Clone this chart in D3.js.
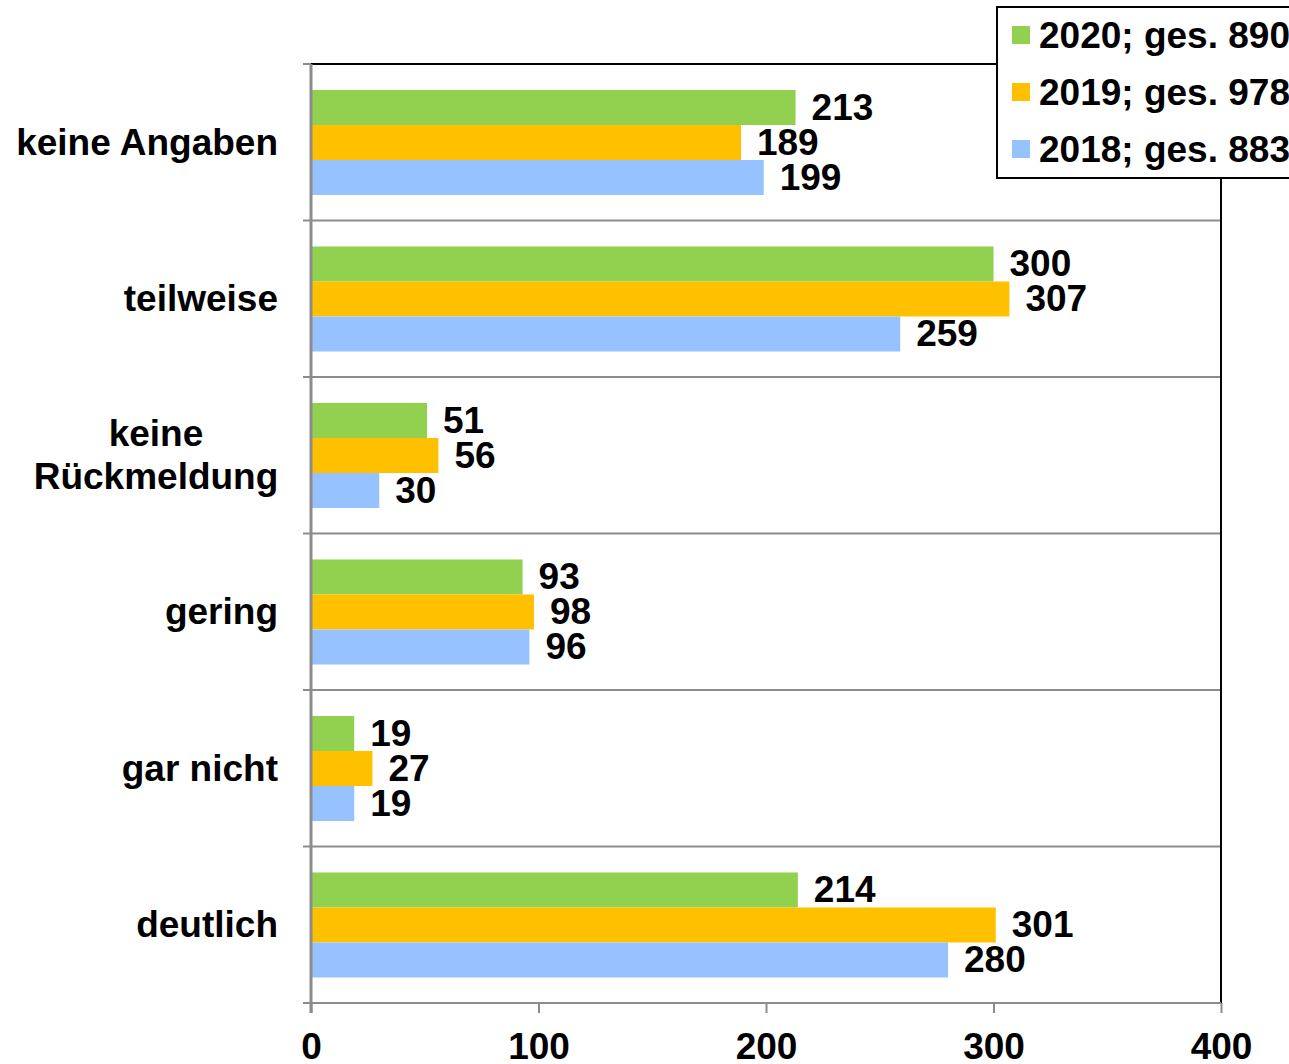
<!DOCTYPE html>
<html>
<head>
<meta charset="utf-8">
<script src="https://cdn.jsdelivr.net/npm/d3@7"></script>
<style>
  body { margin: 0; background: #fff; }
  svg { display: block; }
  text { font-family: "Liberation Sans", Arial, sans-serif; font-weight: bold; fill: #000; }
</style>
</head>
<body>
<div class="chart"></div>
<script>
// categories top to bottom
var categories = ["keine Angaben", "teilweise", "keine Rückmeldung", "gering", "gar nicht", "deutlich"];
var seriesNames = ["2020; ges. 890", "2019; ges. 978", "2018; ges. 883"];
var seriesColors = ["#92D050", "#FFC000", "#96C3FF"];
var values2020 = [213, 300, 51, 93, 19, 214];
var values2019 = [189, 307, 56, 98, 27, 301];
var values2018 = [199, 259, 30, 96, 19, 280];
var xTicks = [0, 100, 200, 300, 400];

var allValues = [values2020, values2019, values2018];

var width = 1289, height = 1064;
var margin = {top: 64, right: 68, bottom: 61, left: 311};
var fontSize = 37;

var svg = d3.select(".chart")
  .append("svg")
    .attr("width", width)
    .attr("height", height);

var x = d3.scaleLinear()
    .domain([0, 400])
    .range([margin.left, width - margin.right]);

var y = d3.scaleBand()
    .domain(categories)
    .range([margin.top, height - margin.bottom]);

// three bars in each band, with some white space above and below
var ySub = d3.scaleBand()
    .domain(d3.range(seriesNames.length))
    .range([y.bandwidth() * 0.166, y.bandwidth() * 0.837]);

// horizontal grid lines at band boundaries
var bounds = categories.slice(1).map(function(c) { return y(c); });
svg.append("g")
  .selectAll("line")
  .data(bounds)
  .enter()
  .append("line")
    .attr("x1", x(0))
    .attr("x2", x(400))
    .attr("y1", function(d) { return d; })
    .attr("y2", function(d) { return d; })
    .attr("stroke", "#8c8c8c")
    .attr("stroke-width", 2);

// left axis ticks
svg.append("g")
  .selectAll("line")
  .data([margin.top].concat(bounds).concat([height - margin.bottom]))
  .enter()
  .append("line")
    .attr("x1", x(0) - 8)
    .attr("x2", x(0))
    .attr("y1", function(d) { return d; })
    .attr("y2", function(d) { return d; })
    .attr("stroke", "#8c8c8c")
    .attr("stroke-width", 2);

// plot border top / right in black
svg.append("line")
    .attr("x1", x(0)).attr("x2", x(400))
    .attr("y1", margin.top).attr("y2", margin.top)
    .attr("stroke", "#000").attr("stroke-width", 2);
svg.append("line")
    .attr("x1", x(400)).attr("x2", x(400))
    .attr("y1", margin.top).attr("y2", height - margin.bottom)
    .attr("stroke", "#000").attr("stroke-width", 2);

// bars
seriesNames.forEach(function(name, si) {
  var g = svg.append("g");
  g.selectAll("rect")
    .data(categories)
    .enter()
    .append("rect")
      .attr("x", x(0))
      .attr("y", function(c) { return y(c) + ySub(si); })
      .attr("width", function(c, i) { return x(allValues[si][i]) - x(0); })
      .attr("height", ySub.bandwidth())
      .attr("fill", seriesColors[si]);

  g.selectAll("text")
    .data(categories)
    .enter()
    .append("text")
      .attr("x", function(c, i) { return x(allValues[si][i]) + 16; })
      .attr("y", function(c) { return y(c) + ySub(si) + ySub.bandwidth() / 2 + 12.5; })
      .attr("font-size", fontSize)
      .text(function(c, i) { return allValues[si][i]; });
});

// bottom axis
var xAxis = svg.append("g")
    .attr("transform", "translate(0," + (height - margin.bottom) + ")")
    .call(d3.axisBottom(x).tickValues(xTicks).tickSize(10).tickPadding(20).tickSizeOuter(0));
xAxis.select(".domain").attr("stroke", "#8c8c8c").attr("stroke-width", 2)
    .attr("d", "M" + (x(0) - 8) + ",0H" + x(400));
xAxis.selectAll(".tick line").attr("stroke", "#8c8c8c").attr("stroke-width", 2);
xAxis.selectAll(".tick text")
    .attr("font-size", fontSize)
    .attr("font-family", "Liberation Sans, Arial, sans-serif")
    .attr("font-weight", "bold")
    .attr("fill", "#000");

// left axis line
svg.append("line")
    .attr("x1", x(0)).attr("x2", x(0))
    .attr("y1", margin.top).attr("y2", height - margin.bottom + 10)
    .attr("stroke", "#8c8c8c").attr("stroke-width", 3);

// category labels
svg.append("g")
  .selectAll("text")
  .data(categories)
  .enter()
  .append("text")
    .attr("x", 278)
    .attr("y", function(c) { return y(c) + y.bandwidth() / 2; })
    .attr("text-anchor", "end")
    .attr("font-size", fontSize)
    .each(function(c) {
      var words = c === "keine Rückmeldung" ? ["keine", "Rückmeldung"] : [c];
      var t = d3.select(this);
      var lh = 43;
      var y0 = -(words.length - 1) * lh / 2 + 12.5;
      words.forEach(function(w, k) {
        t.append("tspan")
          .attr("x", words.length > 1 ? 156 : 278)
          .attr("text-anchor", words.length > 1 ? "middle" : "end")
          .attr("dy", k === 0 ? y0 : lh)
          .text(w);
      });
    });

// legend
var legend = svg.append("g");
legend.append("rect")
    .attr("x", 997).attr("y", 7)
    .attr("width", 320).attr("height", 171)
    .attr("fill", "#fff")
    .attr("stroke", "#000")
    .attr("stroke-width", 2);
seriesNames.forEach(function(name, si) {
  var cy = 35 + si * 57;
  legend.append("rect")
      .attr("x", 1012).attr("y", cy - 9)
      .attr("width", 18).attr("height", 18)
      .attr("fill", seriesColors[si]);
  legend.append("text")
      .attr("x", 1039)
      .attr("y", cy + 12.5)
      .attr("font-size", fontSize)
      .text(name);
});
</script>
</body>
</html>
